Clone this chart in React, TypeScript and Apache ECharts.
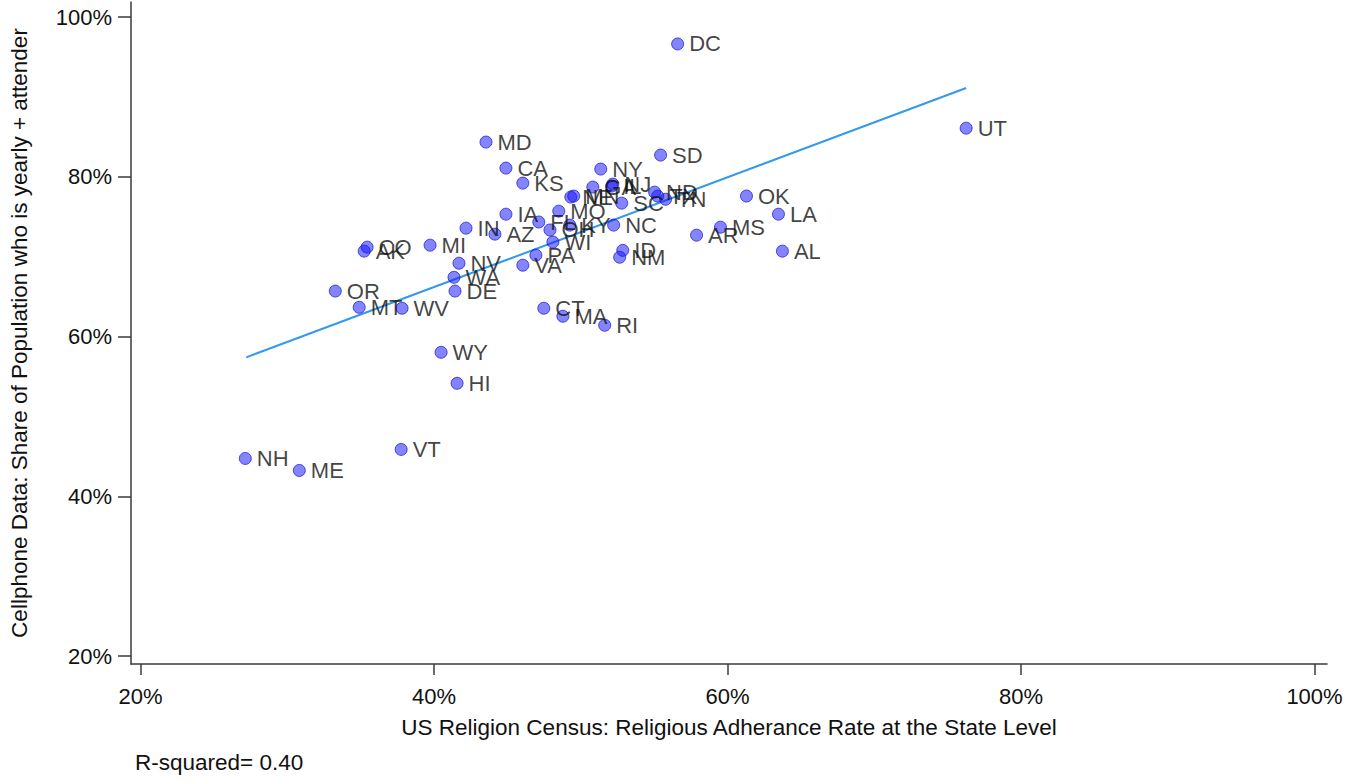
import React, { useEffect, useRef } from "react";
import * as echarts from "echarts";

const states = [
  "DC", "UT", "MD", "SD", "CA", "NY", "KS", "OK", "LA", "MS", "AR", "AL",
  "IA", "IN", "AZ", "MI", "CO", "AK", "NV", "WA", "DE", "OR", "MT", "WV",
  "WY", "HI", "VT", "NH", "ME", "CT", "MA", "RI", "VA", "PA", "NM", "ID",
  "WI", "OH", "FL", "KY", "MO", "ND", "TX", "TN", "GA", "IL", "NJ", "NE",
  "MN", "SC", "NC",
];
// US Religion Census adherence rate (%)
const adherence = [
  56.6, 76.26, 43.54, 55.44, 44.9, 51.36, 46.05, 61.29, 63.47, 59.52, 57.89, 63.74,
  44.9, 42.18, 44.15, 39.73, 35.44, 35.24, 41.7, 41.36, 41.43, 33.27, 34.9, 37.82,
  40.48, 41.57, 37.76, 27.14, 30.82, 47.48, 48.78, 51.63, 46.05, 46.94, 52.65, 52.86,
  48.1, 47.9, 47.14, 49.25, 48.5, 55.03, 55.24, 55.78, 50.82, 52.11, 52.18, 49.32,
  49.52, 52.79, 52.24,
];
// Cellphone data: share yearly+ attenders (%)
const attendance = [
  96.65, 86.1, 84.36, 82.73, 81.1, 80.98, 79.22, 77.6, 75.33, 73.7, 72.7, 70.7,
  75.33, 73.58, 72.83, 71.45, 71.2, 70.7, 69.19, 67.43, 65.7, 65.7, 63.67, 63.55,
  58.03, 54.15, 45.87, 44.74, 43.24, 63.55, 62.55, 61.42, 68.94, 70.2, 69.94, 70.8,
  71.84, 73.35, 74.35, 73.96, 75.71, 78.09, 77.59, 77.2, 78.72, 78.85, 79.1, 77.47,
  77.6, 76.71, 73.96,
];
// Fitted regression line endpoints
const fitX = [27.2, 76.26];
const fitY = [57.4, 91.13];
const tickValues = [20, 40, 60, 80, 100];
const rSquared = "0.40";

const FONT = "'Liberation Sans', Arial, sans-serif";
const TXT = "#111111";

export default function App() {
  const ref = useRef<HTMLDivElement>(null);
  useEffect(() => {
    if (!ref.current) return;
    const chart = echarts.init(ref.current, undefined, { renderer: "svg" });
    const points = states.map((s, i) => [adherence[i], attendance[i], s]);
    const axisLine = { show: true, lineStyle: { color: "#3a3a3a", width: 1.5 } };
    chart.setOption({
      animation: false,
      backgroundColor: "#ffffff",
      textStyle: { fontFamily: FONT },
      grid: { left: 129, right: 41, top: 2, bottom: 118 },
      xAxis: {
        type: "value",
        min: 19.35,
        max: 100.85,
        name: "US Religion Census: Religious Adherance Rate at the State Level",
        nameLocation: "middle",
        nameGap: 52,
        nameTextStyle: { fontSize: 22.5, color: TXT, fontFamily: FONT },
        axisLine,
        axisTick: { show: true, length: 11, customValues: tickValues, lineStyle: { color: "#3a3a3a", width: 1.5 } },
        axisLabel: {
          customValues: tickValues,
          formatter: (v: number) => `${v}%`,
          fontSize: 22,
          color: TXT,
          margin: 21,
          fontFamily: FONT,
        },
        splitLine: { show: false },
      },
      yAxis: {
        type: "value",
        min: 19.0,
        max: 101.9,
        name: "Cellphone Data: Share of Population who is yearly + attender",
        nameLocation: "middle",
        nameGap: 100,
        nameRotate: 90,
        nameTextStyle: { fontSize: 22.5, color: TXT, fontFamily: FONT },
        axisLine,
        axisTick: { show: true, length: 13, customValues: tickValues, lineStyle: { color: "#3a3a3a", width: 1.5 } },
        axisLabel: {
          customValues: tickValues,
          formatter: (v: number) => `${v}%`,
          fontSize: 22,
          color: TXT,
          margin: 19,
          fontFamily: FONT,
        },
        splitLine: { show: false },
      },
      series: [
        {
          type: "line",
          data: fitX.map((x, i) => [x, fitY[i]]),
          symbol: "none",
          lineStyle: { color: "#3399ee", width: 2 },
          z: 1,
        },
        {
          type: "scatter",
          data: points,
          symbolSize: 12,
          itemStyle: {
            color: "rgba(20,20,255,0.65)",
            borderColor: "rgba(20,20,200,0.9)",
            borderWidth: 1,
          },
          label: {
            show: true,
            position: "right",
            distance: 5,
            formatter: (p: any) => p.data[2],
            fontSize: 22,
            color: TXT,
            fontFamily: FONT,
          },
          labelLayout: { hideOverlap: false },
          z: 2,
        },
      ],
      graphic: [
        {
          type: "text",
          left: 135,
          top: 751,
          style: {
            text: `R-squared= ${rSquared}`,
            fontSize: 22.5,
            fill: TXT,
            fontFamily: FONT,
          },
        },
      ],
    });
    return () => chart.dispose();
  }, []);
  return (
    <div
      ref={ref}
      style={{ position: "absolute", left: 0, top: 0, width: 1368, height: 782 }}
    />
  );
}
